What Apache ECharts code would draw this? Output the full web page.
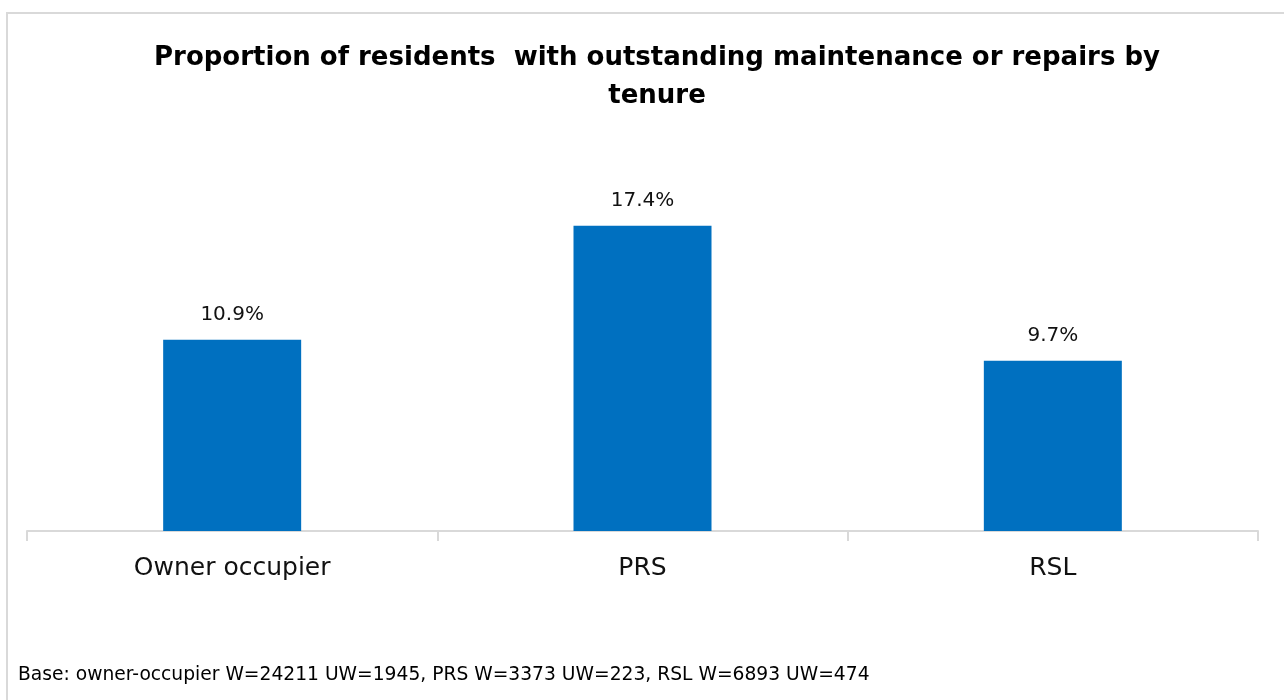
<!DOCTYPE html>
<html>
<head>
<meta charset="utf-8">
<script src="https://cdn.jsdelivr.net/npm/echarts@6/dist/echarts.min.js"></script>
<style>
    html, body { margin: 0; padding: 0; background: #fff; }
    #chart { width: 1284px; height: 700px; }
</style>
</head>
<body>
<div id="chart"></div>
<script>
    var categories = ['Owner occupier', 'PRS', 'RSL']
    var values = [10.9, 17.4, 9.7]
    var titleText = 'Proportion of residents  with outstanding maintenance or repairs by\ntenure'
    var footnote = 'Base: owner-occupier W=24211 UW=1945, PRS W=3373 UW=223, RSL W=6893 UW=474'

    var chart = echarts.init(document.getElementById('chart'), null, { renderer: 'canvas' })

    chart.setOption({
        animation: false,
        title: {
            text: titleText,
            left: 652,
            top: 34,
            textAlign: 'center',
            textStyle: {
                fontFamily: 'DejaVu Sans',
                fontWeight: 'bold',
                fontSize: 26,
                lineHeight: 38,
                color: '#000'
            }
        },
        graphic: [
            {
                type: 'rect',
                shape: { x: 7, y: 13, width: 1300, height: 720 },
                style: { fill: 'none', stroke: '#d9d9d9', lineWidth: 2 },
                silent: true
            },
            {
                type: 'text',
                left: 18,
                top: 666,
                style: {
                    text: footnote,
                    font: '18.7px "DejaVu Sans"',
                    fill: '#000'
                }
            }
        ],
        grid: {
            left: 27,
            right: 26,
            top: 180,
            bottom: 169
        },
        xAxis: {
            type: 'category',
            data: categories,
            axisLine: { lineStyle: { color: '#d9d9d9', width: 2 } },
            axisTick: { show: true, length: 10, lineStyle: { color: '#d9d9d9', width: 2 } },
            axisLabel: {
                margin: 25,
                fontFamily: 'DejaVu Sans',
                fontSize: 25,
                color: '#111'
            }
        },
        yAxis: {
            type: 'value',
            min: 0,
            max: 20,
            show: false
        },
        series: [{
            type: 'bar',
            data: values,
            barWidth: 138,
            itemStyle: { color: '#0070c0' },
            label: {
                show: true,
                position: 'top',
                distance: 15,
                formatter: '{c}%',
                fontFamily: 'DejaVu Sans',
                fontSize: 20,
                color: '#111'
            }
        }]
    })

    window.addEventListener('resize', () => {
        chart.resize()
    })
</script>
</body>
</html>
